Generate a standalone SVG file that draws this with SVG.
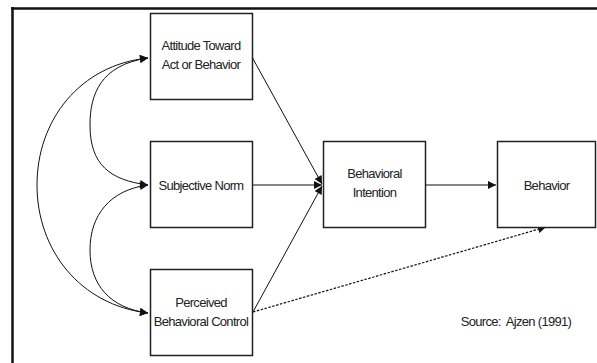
<svg xmlns="http://www.w3.org/2000/svg" width="597" height="363" viewBox="0 0 597 363">
<style>
.box{fill:#fff;stroke:#222;stroke-width:1.5}
.lbl{font-family:"Liberation Sans",Arial,sans-serif;font-size:13px;fill:#222;text-anchor:middle;letter-spacing:-0.7px}
.con{fill:none;stroke:#111;stroke-width:1}
.dot{fill:none;stroke:#111;stroke-width:1.2;stroke-dasharray:2.5,1.5}
</style>
<defs>
<marker id="ah" viewBox="0 0 10 10" refX="10" refY="5" markerWidth="9" markerHeight="8" markerUnits="userSpaceOnUse" orient="auto-start-reverse">
<path d="M0,0 L10,5 L0,10 z" fill="#111"/>
</marker>
</defs>
<rect x="0" y="0" width="597" height="363" fill="#fff"/>
<g id="frame">
<line x1="11" y1="8.5" x2="597" y2="8.5" stroke="#111" stroke-width="2.5"/>
<line x1="12.5" y1="7" x2="12.5" y2="363" stroke="#111" stroke-width="2.5"/>
</g>
<g id="connectors">
<path class="con" d="M148,58 C80,65 37,120 37,185 C37,250 80,305 148,313" marker-start="url(#ah)" marker-end="url(#ah)"/>
<path class="con" d="M148,58 C100,65 90,95 90,125 C90,165 110,180 148,185" marker-start="url(#ah)" marker-end="url(#ah)"/>
<path class="con" d="M148,185 C110,190 90,215 90,250 C90,285 110,308 148,313" marker-start="url(#ah)" marker-end="url(#ah)"/>
<line class="con" x1="252" y1="57" x2="322" y2="184" marker-end="url(#ah)"/>
<line class="con" x1="252" y1="185" x2="322" y2="185" marker-end="url(#ah)"/>
<line class="con" x1="253" y1="312" x2="322" y2="186" marker-end="url(#ah)"/>
<line class="con" x1="426" y1="185" x2="496" y2="185" marker-end="url(#ah)"/>
<line class="dot" x1="253" y1="312" x2="546" y2="227" marker-end="url(#ah)"/>
</g>
<g id="attitude">
<rect class="box" x="150.5" y="13.5" width="102" height="86"/>
<text class="lbl" x="201" y="50">Attitude Toward</text>
<text class="lbl" x="201" y="69">Act or Behavior</text>
</g>
<g id="subjective-norm">
<rect class="box" x="150.5" y="141.5" width="102" height="86"/>
<text class="lbl" x="201" y="190">Subjective Norm</text>
</g>
<g id="perceived-control">
<rect class="box" x="150.5" y="269.5" width="102" height="86"/>
<text class="lbl" x="201" y="307">Perceived</text>
<text class="lbl" x="201" y="326">Behavioral Control</text>
</g>
<g id="intention">
<rect class="box" x="323.5" y="141.5" width="102" height="86"/>
<text class="lbl" x="374.5" y="178">Behavioral</text>
<text class="lbl" x="374.5" y="197">Intention</text>
</g>
<g id="behavior">
<rect class="box" x="497.5" y="141.5" width="98" height="86"/>
<text class="lbl" x="546.5" y="190">Behavior</text>
</g>
<g id="source">
<text class="lbl" x="516" y="326" xml:space="preserve">Source:  Ajzen (1991)</text>
</g>
</svg>
